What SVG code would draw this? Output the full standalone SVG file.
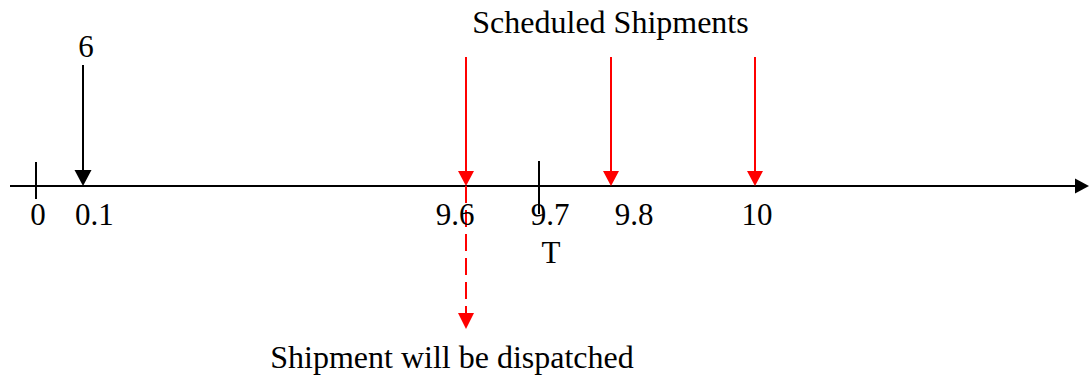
<svg xmlns="http://www.w3.org/2000/svg" width="1089" height="382" viewBox="0 0 1089 382">
<style>
text{font-family:"Liberation Serif","Times New Roman",serif;font-size:31px;fill:#000}
text.big{font-size:32px}
.k{stroke:#000;stroke-width:2;fill:none}
.r{stroke:#f00;stroke-width:2;fill:none}
.ha{fill:#000}
.hr{fill:#f00}
</style>
<rect width="1089" height="382" fill="#fff"/>
<g id="connectors">
<line class="k" x1="10" y1="186" x2="1077" y2="186"/>
<polygon class="ha" points="1075,178.5 1089,186 1075,193.5"/>
<line class="k" x1="36" y1="162" x2="36" y2="199"/>
<line class="k" x1="539" y1="161" x2="539" y2="214"/>
<line class="k" x1="83" y1="65" x2="83" y2="172"/>
<polygon class="ha" points="74.5,170 91.5,170 83,186"/>
<line class="r" x1="466" y1="57" x2="466" y2="172"/>
<polygon class="hr" points="458,171 474,171 466,186"/>
<line class="r" x1="611" y1="57" x2="611" y2="172"/>
<polygon class="hr" points="603,171 619,171 611,186"/>
<line class="r" x1="755" y1="57" x2="755" y2="172"/>
<polygon class="hr" points="747,171 763,171 755,186"/>
<line class="r" x1="466" y1="186" x2="466" y2="314" stroke-dasharray="17 7"/>
<polygon class="hr" points="458,313 474,313 466,329"/>
</g>
<g id="labels">
<text x="86" y="57" text-anchor="middle">6</text>
<text x="38" y="225" text-anchor="middle">0</text>
<text x="75" y="225">0.1</text>
<text x="455" y="225" text-anchor="middle">9.6</text>
<text x="550" y="225" text-anchor="middle">9.7</text>
<text x="634" y="225" text-anchor="middle">9.8</text>
<text x="757" y="225" text-anchor="middle">10</text>
<text x="551" y="263" text-anchor="middle">T</text>
<text class="big" x="610.5" y="33" text-anchor="middle">Scheduled Shipments</text>
<text class="big" x="452" y="368" text-anchor="middle">Shipment will be dispatched</text>
</g>
</svg>
